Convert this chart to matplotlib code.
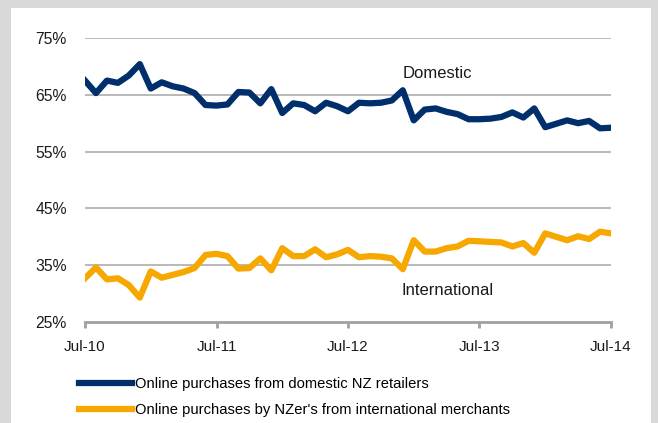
import numpy as np
import matplotlib.pyplot as plt
from matplotlib.patches import Rectangle

# monthly share of online purchases (%), Jul-10 .. Jul-14
domestic = [67.5, 65.3, 67.5, 67.1, 68.4, 70.4, 66.1, 67.2, 66.5, 66.1,
            65.3, 63.2, 63.1, 63.3, 65.5, 65.4, 63.5, 66.0, 61.8, 63.5,
            63.2, 62.1, 63.6, 63.0, 62.1, 63.6, 63.5, 63.6, 64.0, 65.8,
            60.5, 62.4, 62.6, 62.0, 61.6, 60.7, 60.7, 60.8, 61.1, 61.9,
            61.0, 62.6, 59.3, 59.9, 60.5, 60.0, 60.4, 59.1, 59.2]
international = [32.7, 34.6, 32.5, 32.7, 31.5, 29.3, 33.9, 32.8, 33.3, 33.8,
                 34.5, 36.8, 37.0, 36.6, 34.4, 34.5, 36.2, 34.1, 38.0, 36.6,
                 36.6, 37.8, 36.4, 36.9, 37.7, 36.4, 36.6, 36.5, 36.2, 34.3,
                 39.4, 37.4, 37.4, 38.0, 38.3, 39.3, 39.2, 39.1, 39.0, 38.3,
                 38.9, 37.2, 40.6, 40.0, 39.4, 40.1, 39.6, 40.9, 40.6]
tick_pos = [0, 12, 24, 36, 48]
tick_labels = ["Jul-10", "Jul-11", "Jul-12", "Jul-13", "Jul-14"]
y_ticks = [25, 35, 45, 55, 65, 75]

blue = "#002F6C"
gold = "#F7A800"
plt.rcParams['font.family'] = ['Liberation Sans', 'DejaVu Sans']

fig = plt.figure(figsize=(6.58, 4.23), dpi=100, facecolor="#D9D9D9")
# white panel inside the grey frame
fig.patches.append(Rectangle((11/658, 0), 640/658, 1 - 8/423, transform=fig.transFigure,
                             facecolor="white", edgecolor="none", zorder=-5))

ax = fig.add_axes([85/658, 1 - 322/423, 526/658, 284/423])
ax.set_facecolor("none")
x = np.arange(len(domestic))
ax.plot(x, domestic, color=blue, lw=4.5, label="Online purchases from domestic NZ retailers", zorder=3)
ax.plot(x, international, color=gold, lw=4.5, label="Online purchases by NZer's from international merchants", zorder=3)

ax.set_xlim(0, 48)
ax.set_ylim(25, 75)
ax.set_yticks(y_ticks)
ax.set_yticklabels([f"{v}%" for v in y_ticks])
ax.set_xticks(tick_pos)
ax.set_xticklabels(tick_labels)
for v in y_ticks[1:]:
    ax.axhline(v, color="#A6A6A6", lw=1.1, zorder=1)
for s in ["top", "right", "left"]:
    ax.spines[s].set_visible(False)
ax.spines["bottom"].set_color("#A0A0A0")
ax.spines["bottom"].set_linewidth(2)
ax.tick_params(axis="y", length=0, pad=13, labelsize=11.3, colors="#1A1A1A")
ax.tick_params(axis="x", length=4, width=2, color="#A0A0A0", pad=9, labelsize=11, labelcolor="#1A1A1A")

ax.text(32.2, 68.8, "Domestic", fontsize=12, color="#1A1A1A", ha="center", va="center")
ax.text(33.1, 30.5, "International", fontsize=12, color="#1A1A1A", ha="center", va="center")

fig.legend(loc="upper left", bbox_to_anchor=(72/658, 1 - 370/423), frameon=False,
           fontsize=10.6, handlelength=3.6, handletextpad=0.2, labelspacing=0.8, borderpad=0)

fig.savefig("out.png", dpi=100, facecolor=fig.get_facecolor())
